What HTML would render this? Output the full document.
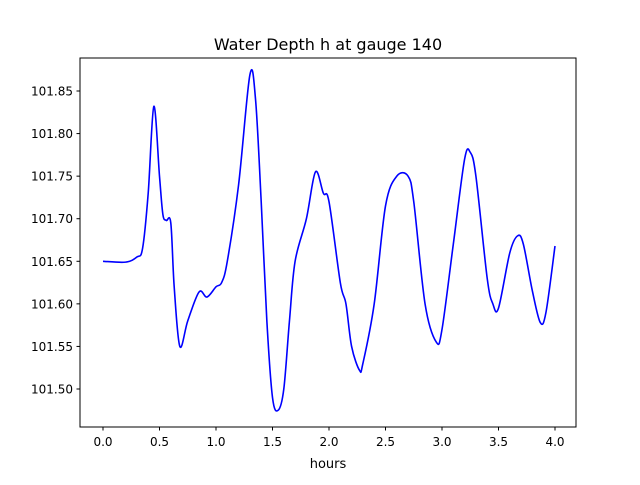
<!DOCTYPE html>
<html><head><meta charset="utf-8"><style>
body{margin:0;background:#fff;font-family:"Liberation Sans","DejaVu Sans",sans-serif}
svg text{font-family:"DejaVu Sans","Liberation Sans",sans-serif}
</style></head><body>
<svg id="chart" width="640" height="480">
<rect width="640" height="480" fill="#fff"/>
<text x="328" y="50" font-size="16" text-anchor="middle">Water Depth h at gauge 140</text>
<g id="ticks"></g>
<path id="line" fill="none" stroke="#0000ff" stroke-width="1.6"/>
<rect x="80" y="58" width="496" height="369" fill="none" stroke="#000" stroke-width="1"/>
<text x="328" y="468" font-size="13" text-anchor="middle">hours</text>
</svg>
<script>
const hours=[0,0.2,0.3,0.35,0.4,0.45,0.5,0.53,0.56,0.6,0.63,0.68,0.75,0.85,0.92,1.0,1.05,1.1,1.2,1.3,1.35,1.4,1.45,1.5,1.55,1.6,1.65,1.7,1.8,1.88,1.95,2.0,2.1,2.15,2.2,2.27,2.3,2.4,2.5,2.6,2.7,2.75,2.85,2.95,3.0,3.1,3.2,3.25,3.3,3.4,3.45,3.5,3.6,3.67,3.72,3.8,3.87,3.92,4.0];
const depth=[101.65,101.649,101.655,101.665,101.73,101.832,101.75,101.705,101.698,101.695,101.62,101.55,101.58,101.614,101.608,101.62,101.625,101.65,101.74,101.869,101.84,101.72,101.58,101.49,101.475,101.5,101.58,101.65,101.7,101.755,101.73,101.72,101.625,101.6,101.55,101.522,101.53,101.6,101.715,101.75,101.75,101.72,101.6,101.555,101.57,101.67,101.77,101.778,101.75,101.63,101.6,101.595,101.66,101.68,101.67,101.615,101.578,101.59,101.668];
const xTicks=[0,0.5,1,1.5,2,2.5,3,3.5,4];
const xTickLabels=["0.0","0.5","1.0","1.5","2.0","2.5","3.0","3.5","4.0"];
const yTicks=[101.5,101.55,101.6,101.65,101.7,101.75,101.8,101.85];
const yTickLabels=["101.50","101.55","101.60","101.65","101.70","101.75","101.80","101.85"];
const sx=h=>103+h*113;
const sy=v=>389-(v-101.5)/0.05*42.57;
const NS='http://www.w3.org/2000/svg';
const g=document.getElementById('ticks');
xTicks.forEach((t,i)=>{
 const l=document.createElementNS(NS,'line');
 
 
 l.setAttribute('x1',sx(t));l.setAttribute('x2',sx(t));l.setAttribute('y1',427);l.setAttribute('y2',430.5);l.setAttribute('stroke','#000');
 g.appendChild(l);
 const tx=document.createElementNS(NS,'text');
 
 
 tx.setAttribute('x',sx(t));tx.setAttribute('y',446);tx.setAttribute('font-size','12');tx.setAttribute('text-anchor','middle');
 tx.textContent=xTickLabels[i];g.appendChild(tx);
});
yTicks.forEach((t,i)=>{
 const l=document.createElementNS(NS,'line');
 
 
 l.setAttribute('x1',76.5);l.setAttribute('x2',80);l.setAttribute('y1',sy(t));l.setAttribute('y2',sy(t));l.setAttribute('stroke','#000');
 g.appendChild(l);
 const tx=document.createElementNS(NS,'text');
 
 
 tx.setAttribute('x',73);tx.setAttribute('y',sy(t)+4.5);tx.setAttribute('font-size','12');tx.setAttribute('text-anchor','end');
 tx.textContent=yTickLabels[i];g.appendChild(tx);
});
const P=hours.map((h,i)=>[sx(h),sy(depth[i])]);
let d='M'+P[0][0]+','+P[0][1];
for(let i=0;i<P.length-1;i++){
 const p0=P[Math.max(0,i-1)],p1=P[i],p2=P[i+1],p3=P[Math.min(P.length-1,i+2)];
 const c1=[p1[0]+(p2[0]-p0[0])/6,p1[1]+(p2[1]-p0[1])/6];
 const c2=[p2[0]-(p3[0]-p1[0])/6,p2[1]-(p3[1]-p1[1])/6];
 d+=` C${c1[0]},${c1[1]} ${c2[0]},${c2[1]} ${p2[0]},${p2[1]}`;
}
document.getElementById('line').setAttribute('d',d);
</script>
</body></html>
